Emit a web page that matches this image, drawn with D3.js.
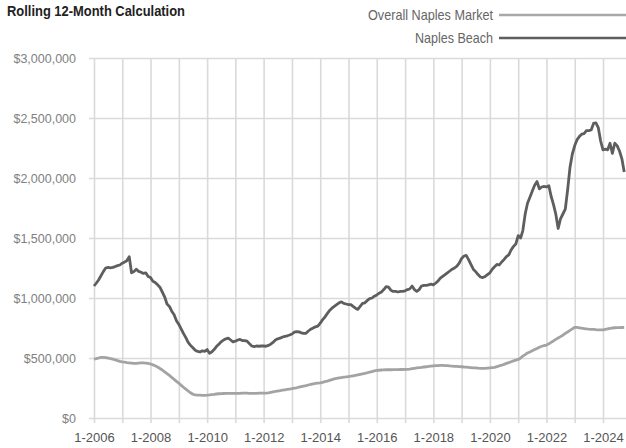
<!DOCTYPE html>
<html>
<head>
<meta charset="utf-8">
<script src="https://cdn.jsdelivr.net/npm/d3@7"></script>
<style>
  html, body { margin: 0; padding: 0; background: #fff; }
  svg { display: block; }
</style>
</head>
<body>
<div id="chart"></div>
<script>
// Monthly series start
const startYear = 2006;
const startMonth = 0; // January

// Naples Beach, rolling 12-month average sale price (thousands of $), monthly from 1-2006
const naplesBeach = [
  1100, 1125, 1150, 1185, 1220, 1250, 1255, 1252, 1255, 1262, 1270, 1275,
  1290, 1300, 1310, 1345, 1210, 1220, 1240, 1222, 1215, 1205, 1210, 1180,
  1170, 1140, 1130, 1110, 1090, 1050, 1010, 950, 930, 890, 860, 810,
  780, 740, 705, 670, 630, 605, 585, 565, 555, 550, 560, 555,
  570, 540, 550, 570, 595, 615, 635, 650, 660, 665, 650, 635,
  640, 650, 655, 645, 645, 640, 620, 600, 595, 600, 598, 600,
  600, 598, 605, 615, 630, 650, 660, 665, 675, 680, 685, 692,
  700, 715, 720, 718, 710, 705, 706, 725, 740, 750, 760, 765,
  790, 820, 840, 870, 895, 915, 930, 945, 960, 968, 955, 950,
  945, 945, 930, 915, 905, 930, 955, 960, 980, 995, 1000, 1015,
  1025, 1040, 1050, 1070, 1095, 1090, 1065, 1055, 1055, 1050, 1055, 1055,
  1060, 1070, 1075, 1100, 1070, 1055, 1070, 1100, 1105, 1105, 1110, 1115,
  1110, 1125, 1140, 1165, 1180, 1195, 1210, 1225, 1240, 1250, 1265, 1290,
  1330, 1350, 1355, 1320, 1280, 1240, 1220, 1195, 1175, 1170, 1180, 1195,
  1210, 1240, 1260, 1280, 1275, 1300, 1320, 1345, 1360, 1400, 1430, 1450,
  1520, 1500, 1560, 1700, 1790, 1840, 1890, 1940, 1970, 1910, 1925, 1930,
  1925, 1935, 1850, 1780, 1700, 1580, 1660, 1700, 1740, 1900, 2090, 2200,
  2270, 2320, 2345, 2365, 2370, 2395, 2395, 2400, 2455, 2460, 2420, 2310,
  2235, 2240, 2235, 2290, 2205, 2290, 2270, 2225, 2160, 2050
];

// Overall Naples Market, rolling 12-month average sale price (thousands of $)
const overallMarket = [
  490, 495, 500, 505, 505, 503, 500, 495, 490, 485, 478, 472,
  468, 465, 462, 460, 458, 456, 456, 458, 460, 460, 458, 455,
  450, 443, 435, 425, 413, 400, 385, 370, 355, 338, 322, 305,
  290, 272, 256, 240, 225, 210, 198, 192, 190, 190, 189, 189,
  190, 192, 195, 197, 200, 202, 203, 204, 205, 205, 205, 206,
  206, 206, 206, 207, 207, 207, 206, 206, 206, 206, 207, 207,
  207, 208, 210, 214, 218, 221, 225, 228, 232, 235, 238, 241,
  244, 248, 252, 257, 262, 266, 270, 275, 280, 284, 288, 290,
  292, 297, 303, 308, 314, 320, 326, 330, 334, 337, 340, 342,
  345, 348, 352, 356, 360, 364, 368, 372, 377, 382, 387, 392,
  396, 398, 400, 401, 402, 402, 402, 403, 403, 403, 404, 404,
  405, 406, 408, 411, 414, 417, 420, 422, 425, 427, 430, 432,
  434, 436, 437, 438, 438, 437, 436, 434, 433, 431, 430, 428,
  427, 425, 424, 422, 420, 418, 417, 415, 414, 413, 414, 416,
  418, 420, 422, 428, 434, 440, 447, 455, 462, 469, 476, 482,
  488, 500, 515, 528, 542, 550, 560, 570, 580, 590, 598, 603,
  608, 618, 630, 642, 655, 667, 678, 690, 705, 717, 730, 743,
  756, 755, 752, 748, 745, 742, 740, 739, 738, 736, 735, 734,
  734, 738, 742, 746, 750, 752, 753, 753, 754, 755
];

const seriesNames = ["Overall Naples Market", "Naples Beach"];
const yTickValues = [0, 500000, 1000000, 1500000, 2000000, 2500000, 3000000];
const xLabelYears = [2006, 2008, 2010, 2012, 2014, 2016, 2018, 2020, 2022, 2024];
const gridYears = d3.range(2006, 2026);
const chartTitle = "Rolling 12-Month Calculation";

const W = 626, H = 448;
const plotLeft = 94, plotTop = 58, plotBottom = 418;

const svg = d3.select("#chart").append("svg")
  .attr("width", W).attr("height", H)
  .style("font-family", "'Liberation Sans', Arial, sans-serif");

const x = d3.scaleTime()
  .domain([new Date(2006, 0, 1), new Date(2024, 0, 1)])
  .range([plotLeft, 603]);
const y = d3.scaleLinear()
  .domain([0, 3000000])
  .range([plotBottom, plotTop]);

const monthDate = i => d3.timeMonth.offset(new Date(startYear, startMonth, 1), i);

// horizontal grid + y labels
const yAxis = svg.append("g")
  .attr("transform", `translate(${plotLeft},0)`)
  .call(d3.axisLeft(y).tickValues(yTickValues).tickFormat(d => "$" + d3.format(",")(d)).tickSize(0).tickPadding(18));
yAxis.select(".domain").remove();
yAxis.selectAll(".tick line")
  .attr("x1", -5).attr("x2", W - plotLeft + 10)
  .attr("stroke", "#dadada").attr("stroke-width", 1.6);
yAxis.selectAll(".tick text")
  .attr("fill", "#808080").style("font-size", "12.5px");

// vertical grid (one per year) + x labels every two years
const xAxis = svg.append("g")
  .attr("transform", `translate(0,${plotBottom})`)
  .call(d3.axisBottom(x).tickValues(gridYears.map(yr => new Date(yr, 0, 1)))
    .tickFormat(d => xLabelYears.includes(d.getFullYear()) ? "1-" + d.getFullYear() : "")
    .tickSize(0).tickPadding(15));
xAxis.select(".domain").remove();
xAxis.selectAll(".tick line")
  .attr("y1", 5).attr("y2", plotTop - plotBottom)
  .attr("stroke", "#dadada").attr("stroke-width", 1.6);
xAxis.selectAll(".tick text")
  .attr("fill", "#555").style("font-size", "13px");

const line = d3.line()
  .x((d, i) => x(monthDate(i)))
  .y(d => y(d * 1000));

svg.append("path")
  .datum(overallMarket)
  .attr("d", line)
  .attr("fill", "none")
  .attr("stroke", "#a3a3a3")
  .attr("stroke-width", 2.8)
  .attr("stroke-linejoin", "round");

svg.append("path")
  .datum(naplesBeach)
  .attr("d", line)
  .attr("fill", "none")
  .attr("stroke", "#5e5e5e")
  .attr("stroke-width", 2.8)
  .attr("stroke-linejoin", "round");

// title (condensed to the width of the original typeface)
svg.append("text")
  .attr("x", 7).attr("y", 16)
  .attr("fill", "#222")
  .attr("textLength", 178)
  .attr("lengthAdjust", "spacingAndGlyphs")
  .style("font-weight", "bold")
  .style("font-size", "15.5px")
  .text(chartTitle);

// legend
const legend = [
  { name: seriesNames[0], color: "#a8a8a8", ty: 20, ly: 15, w: 125 },
  { name: seriesNames[1], color: "#5e5e5e", ty: 43, ly: 38, w: 78 }
];
legend.forEach(l => {
  svg.append("text")
    .attr("x", 493 - l.w).attr("y", l.ty)
    .attr("textLength", l.w)
    .attr("lengthAdjust", "spacingAndGlyphs")
    .attr("fill", "#666")
    .style("font-size", "15px")
    .text(l.name);
  svg.append("line")
    .attr("x1", 499).attr("x2", 640)
    .attr("y1", l.ly).attr("y2", l.ly)
    .attr("stroke", l.color).attr("stroke-width", 2.5);
});
</script>
</body>
</html>
